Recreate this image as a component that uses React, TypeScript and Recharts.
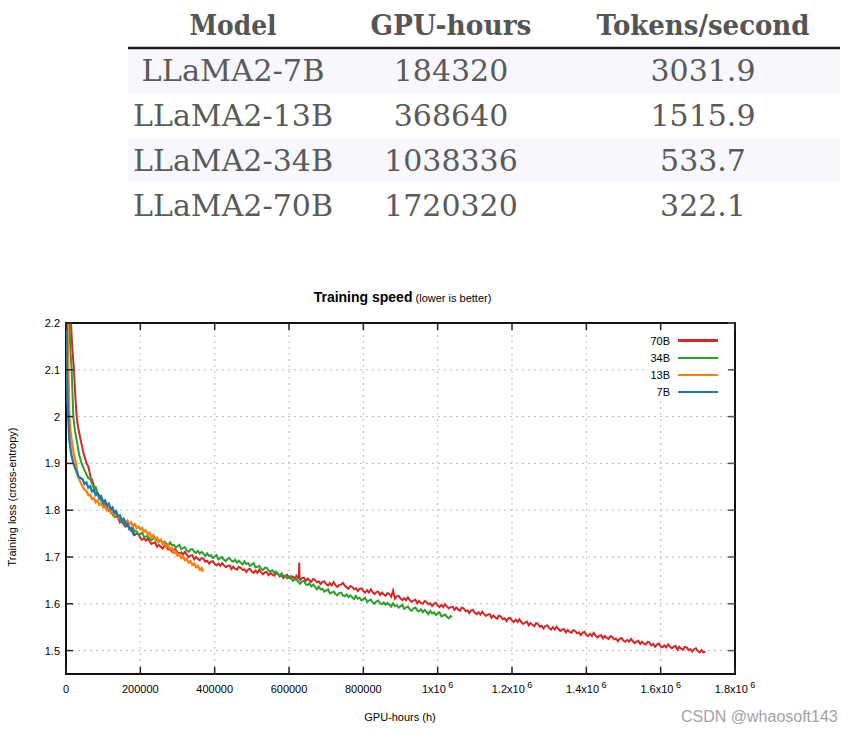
import React from 'react';
import { LineChart, Line, XAxis, YAxis, CartesianGrid, Legend, ReferenceArea } from 'recharts';

// ---------- table data ----------
const tableHeaders = ['Model', 'GPU-hours', 'Tokens/second'];
const modelNames = ['LLaMA2-7B', 'LLaMA2-13B', 'LLaMA2-34B', 'LLaMA2-70B'];
const gpuHoursCol = ['184320', '368640', '1038336', '1720320'];
const tokensCol = ['3031.9', '1515.9', '533.7', '322.1'];

// ---------- chart meta ----------
const seriesNames = ['70B', '34B', '13B', '7B'];
const seriesColors = ['#d62728', '#2ca02c', '#ff7f0e', '#1f77b4'];
const xTicks = [0, 200000, 400000, 600000, 800000, 1000000, 1200000, 1400000, 1600000, 1800000];
const yTicks = [1.5, 1.6, 1.7, 1.8, 1.9, 2, 2.1, 2.2];
const xDomain = [0, 1800000];
const yDomain = [1.45, 2.2];

// ---------- 70B (red): GPU-hours in thousands ----------
const redHeadK = [10, 13.5, 17, 21.5, 25, 28.7, 33, 39.5, 47, 55.6, 60, 62.8, 66];
const redHeadLoss = [2.32, 2.2, 2.145, 2.1, 2.045, 2.0, 1.975, 1.95, 1.922, 1.9, 1.893, 1.884, 1.87];
const redTailStartK = 70;
const redTailStepK = 5;
const redTailLoss = [
  1.865, 1.852, 1.847, 1.834, 1.832, 1.826, 1.814, 1.807, 1.808, 1.799,
  1.802, 1.793, 1.786, 1.786, 1.784, 1.774, 1.777, 1.770, 1.765, 1.768,
  1.764, 1.756, 1.755, 1.747, 1.750, 1.749, 1.741, 1.737, 1.740, 1.735,
  1.740, 1.733, 1.728, 1.730, 1.731, 1.722, 1.726, 1.722, 1.718, 1.724,
  1.722, 1.716, 1.717, 1.711, 1.716, 1.716, 1.710, 1.707, 1.710, 1.705,
  1.711, 1.705, 1.700, 1.703, 1.704, 1.695, 1.700, 1.696, 1.693, 1.698,
  1.696, 1.690, 1.692, 1.686, 1.690, 1.691, 1.685, 1.682, 1.686, 1.681,
  1.687, 1.682, 1.678, 1.681, 1.682, 1.674, 1.679, 1.675, 1.673, 1.679,
  1.677, 1.672, 1.674, 1.668, 1.673, 1.675, 1.669, 1.666, 1.671, 1.666,
  1.673, 1.667, 1.663, 1.667, 1.668, 1.661, 1.666, 1.662, 1.660, 1.666,
  1.664, 1.659, 1.661, 1.655, 1.660, 1.662, 1.656, 1.654, 1.658, 1.654,
  1.660, 1.655, 1.651, 1.655, 1.656, 1.649, 1.654, 1.650, 1.647, 1.653,
  1.651, 1.646, 1.648, 1.642, 1.647, 1.648, 1.642, 1.639, 1.644, 1.639,
  1.646, 1.640, 1.636, 1.640, 1.641, 1.645, 1.639, 1.635, 1.632, 1.638,
  1.636, 1.631, 1.633, 1.627, 1.632, 1.633, 1.627, 1.624, 1.629, 1.624,
  1.631, 1.625, 1.621, 1.625, 1.626, 1.619, 1.624, 1.620, 1.617, 1.623,
  1.621, 1.615, 1.628, 1.611, 1.616, 1.617, 1.611, 1.608, 1.612, 1.608,
  1.614, 1.608, 1.604, 1.607, 1.609, 1.601, 1.606, 1.602, 1.600, 1.606,
  1.604, 1.599, 1.601, 1.595, 1.600, 1.602, 1.596, 1.593, 1.598, 1.593,
  1.599, 1.594, 1.590, 1.593, 1.594, 1.587, 1.592, 1.588, 1.585, 1.592,
  1.590, 1.584, 1.586, 1.580, 1.586, 1.587, 1.581, 1.578, 1.582, 1.577,
  1.583, 1.578, 1.574, 1.577, 1.578, 1.570, 1.575, 1.571, 1.568, 1.575,
  1.573, 1.567, 1.569, 1.563, 1.569, 1.570, 1.564, 1.561, 1.566, 1.561,
  1.567, 1.561, 1.557, 1.560, 1.562, 1.554, 1.559, 1.555, 1.552, 1.559,
  1.557, 1.551, 1.553, 1.547, 1.553, 1.554, 1.548, 1.545, 1.550, 1.545,
  1.551, 1.546, 1.542, 1.545, 1.546, 1.539, 1.544, 1.540, 1.538, 1.544,
  1.542, 1.537, 1.539, 1.533, 1.538, 1.540, 1.534, 1.531, 1.536, 1.531,
  1.538, 1.532, 1.528, 1.532, 1.533, 1.526, 1.531, 1.527, 1.525, 1.531,
  1.529, 1.524, 1.526, 1.520, 1.525, 1.527, 1.521, 1.519, 1.523, 1.519,
  1.525, 1.520, 1.516, 1.519, 1.521, 1.514, 1.519, 1.515, 1.513, 1.519,
  1.517, 1.511, 1.514, 1.508, 1.513, 1.515, 1.509, 1.507, 1.511, 1.507,
  1.513, 1.508, 1.505, 1.508, 1.510, 1.502, 1.508, 1.504, 1.502, 1.508,
  1.507, 1.501, 1.503, 1.498, 1.503, 1.505, 1.499, 1.496, 1.501, 1.496, 1.498,
];
const redSpikeK = [626.5, 627.5, 628.5];
const redSpikeLoss = [1.655, 1.688, 1.653];

// ---------- 34B (green) ----------
const greenHeadK = [6, 9, 12, 15.3, 19.7, 24, 28.7, 35, 42, 50, 56];
const greenHeadLoss = [2.32, 2.2, 2.14, 2.1, 2.0, 1.97, 1.95, 1.92, 1.9, 1.885, 1.875];
const greenTailStartK = 60;
const greenTailStepK = 5;
const greenTailLoss = [
  1.868, 1.867, 1.857, 1.847, 1.849, 1.837, 1.832, 1.820, 1.816, 1.816,
  1.803, 1.802, 1.801, 1.792, 1.786, 1.789, 1.787, 1.779, 1.774, 1.776,
  1.768, 1.770, 1.764, 1.758, 1.763, 1.755, 1.755, 1.748, 1.749, 1.752,
  1.742, 1.744, 1.745, 1.739, 1.736, 1.740, 1.741, 1.734, 1.732, 1.736,
  1.730, 1.733, 1.729, 1.724, 1.731, 1.725, 1.726, 1.720, 1.723, 1.726,
  1.717, 1.719, 1.721, 1.714, 1.711, 1.716, 1.717, 1.711, 1.709, 1.713,
  1.707, 1.711, 1.707, 1.702, 1.708, 1.702, 1.704, 1.698, 1.701, 1.704,
  1.695, 1.698, 1.700, 1.694, 1.691, 1.696, 1.698, 1.692, 1.690, 1.694,
  1.688, 1.692, 1.688, 1.684, 1.691, 1.685, 1.687, 1.681, 1.684, 1.687,
  1.678, 1.679, 1.681, 1.675, 1.672, 1.677, 1.677, 1.671, 1.669, 1.672,
  1.666, 1.669, 1.665, 1.659, 1.665, 1.659, 1.660, 1.654, 1.656, 1.659,
  1.649, 1.651, 1.653, 1.647, 1.643, 1.648, 1.649, 1.642, 1.640, 1.644,
  1.637, 1.641, 1.636, 1.631, 1.637, 1.631, 1.632, 1.626, 1.628, 1.631,
  1.622, 1.624, 1.626, 1.621, 1.618, 1.623, 1.624, 1.618, 1.616, 1.620,
  1.614, 1.618, 1.614, 1.610, 1.617, 1.611, 1.613, 1.607, 1.610, 1.613,
  1.604, 1.607, 1.609, 1.603, 1.600, 1.605, 1.607, 1.601, 1.599, 1.603,
  1.598, 1.602, 1.598, 1.594, 1.601, 1.595, 1.597, 1.592, 1.595, 1.598,
  1.589, 1.592, 1.594, 1.588, 1.585, 1.590, 1.592, 1.586, 1.584, 1.588,
  1.582, 1.587, 1.583, 1.578, 1.585, 1.579, 1.582, 1.576, 1.579, 1.582,
  1.573, 1.575, 1.577, 1.572, 1.569, 1.574,
];
const greenEndK = [1038.3];
const greenEndLoss = [1.571];

// ---------- 13B (orange) ----------
const orangeHeadK = [3, 4.5, 6, 9, 12, 15, 21, 27, 33, 40, 45, 50];
const orangeHeadLoss = [2.35, 2.2, 2.12, 2.0, 1.97, 1.95, 1.92, 1.9, 1.87, 1.858, 1.85, 1.844];
const orangeTailStartK = 55;
const orangeTailStepK = 5;
const orangeTailLoss = [
  1.841, 1.832, 1.833, 1.824, 1.826, 1.817, 1.821, 1.811, 1.815, 1.806,
  1.808, 1.800, 1.803, 1.795, 1.798, 1.789, 1.793, 1.783, 1.787, 1.778,
  1.782, 1.775, 1.778, 1.770, 1.774, 1.766, 1.770, 1.762, 1.765, 1.759,
  1.762, 1.754, 1.757, 1.748, 1.752, 1.743, 1.747, 1.737, 1.741, 1.733,
  1.737, 1.728, 1.731, 1.721, 1.725, 1.716, 1.719, 1.709, 1.712, 1.703,
  1.706, 1.698, 1.701, 1.693, 1.696, 1.688, 1.691, 1.683, 1.686, 1.678,
  1.681, 1.673, 1.676,
];
const orangeEndK = [368.64];
const orangeEndLoss = [1.668];

// ---------- 7B (blue) ----------
const blueHeadK = [1, 1.8, 2.5, 4, 6, 9, 14, 20, 27, 33, 40];
const blueHeadLoss = [2.4, 2.2, 2.1, 2.03, 2.0, 1.95, 1.92, 1.9, 1.885, 1.873, 1.868];
const blueTailStartK = 45;
const blueTailStepK = 5;
const blueTailLoss = [
  1.866, 1.856, 1.859, 1.848, 1.851, 1.840, 1.843, 1.832, 1.835, 1.825,
  1.829, 1.818, 1.821, 1.811, 1.814, 1.803, 1.806, 1.795, 1.798, 1.787,
  1.789, 1.778, 1.781, 1.769, 1.772, 1.760, 1.762, 1.751,
];
const blueEndK = [184.32];
const blueEndLoss = [1.745];

type Pt = { h: number; loss: number };
const pairs = (ks: number[], ls: number[]): Pt[] => ks.map((k, i) => ({ h: k * 1000, loss: ls[i] }));
const stepped = (startK: number, stepK: number, ls: number[]): Pt[] =>
  ls.map((l, i) => ({ h: (startK + i * stepK) * 1000, loss: l }));
const merge = (...parts: Pt[][]): Pt[] => ([] as Pt[]).concat(...parts).sort((a, b) => a.h - b.h);

const redData = merge(pairs(redHeadK, redHeadLoss), stepped(redTailStartK, redTailStepK, redTailLoss), pairs(redSpikeK, redSpikeLoss));
const greenData = merge(pairs(greenHeadK, greenHeadLoss), stepped(greenTailStartK, greenTailStepK, greenTailLoss), pairs(greenEndK, greenEndLoss));
const orangeData = merge(pairs(orangeHeadK, orangeHeadLoss), stepped(orangeTailStartK, orangeTailStepK, orangeTailLoss), pairs(orangeEndK, orangeEndLoss));
const blueData = merge(pairs(blueHeadK, blueHeadLoss), stepped(blueTailStartK, blueTailStepK, blueTailLoss), pairs(blueEndK, blueEndLoss));
const seriesData = [redData, greenData, orangeData, blueData];
const seriesWidths = [2, 2, 2.3, 2.3];

const SANS = '"Liberation Sans", Arial, Helvetica, sans-serif';
const SERIF = '"DejaVu Serif", "Liberation Serif", serif';

// ---------- layout ----------
const CHART_W = 855;
const CHART_H = 732;
const MARGIN = { top: 323, right: 120, bottom: 28, left: 16 };
const Y_AXIS_W = 50;
const X_AXIS_H = 30;
const PLOT_TOP = MARGIN.top;
const PLOT_RIGHT = CHART_W - MARGIN.right;
const X_TICK_MARGIN = 11;
const Y_TICK_MARGIN = 6;
const TICK_LEN = 7;

const XTick = (props: any) => {
  const { x, y, payload } = props;
  const v = payload.value as number;
  const axisY = y - X_TICK_MARGIN;
  const common = { fontSize: 11, fontFamily: SANS, fill: '#000', textAnchor: 'middle' as const };
  return (
    <g>
      <line x1={x} x2={x} y1={axisY} y2={axisY - TICK_LEN} stroke="#222" strokeWidth={1.5} />
      <line x1={x} x2={x} y1={PLOT_TOP} y2={PLOT_TOP + TICK_LEN} stroke="#222" strokeWidth={1.5} />
      {v < 1000000 ? (
        <text x={x} y={y} dy="0.71em" {...common}>{String(v)}</text>
      ) : (
        <text x={x} y={y} dy="0.71em" {...common}>
          <tspan>{`${v / 1000000}x10`}</tspan>
          <tspan dy={-5} fontSize={9}>{'\u00a06'}</tspan>
        </text>
      )}
    </g>
  );
};

const YTick = (props: any) => {
  const { x, y, payload } = props;
  const axisX = x + Y_TICK_MARGIN;
  return (
    <g>
      <line x1={axisX} x2={axisX + TICK_LEN} y1={y} y2={y} stroke="#222" strokeWidth={1.5} />
      <line x1={PLOT_RIGHT} x2={PLOT_RIGHT - TICK_LEN} y1={y} y2={y} stroke="#555" strokeWidth={1.5} />
      <text x={x} y={y} dy="0.355em" textAnchor="end" fontSize={11} fontFamily={SANS} fill="#000">
        {String(payload.value)}
      </text>
    </g>
  );
};

const renderLegend = (props: any) => {
  const payload = [...(props.payload || [])].sort(
    (a: any, b: any) => seriesNames.indexOf(a.value) - seriesNames.indexOf(b.value)
  );
  return (
    <div style={{ background: '#fff', width: 83, paddingTop: 1 }}>
      {payload.map((p: any) => (
        <div key={p.value} style={{ display: 'flex', alignItems: 'center', height: 17.2 }}>
          <span style={{ width: 25, textAlign: 'right', fontSize: 11, fontFamily: SANS, color: '#000', lineHeight: '12px' }}>
            {p.value}
          </span>
          <span style={{ width: 40, height: 2.5, background: p.color, marginLeft: 8 }} />
        </div>
      ))}
    </div>
  );
};

const Table = () => {
  const colX = [233, 451, 703];
  const headerW = [87, 161, 213];
  const rowBase = [81, 126, 171, 216];
  const modelW = [183, 200, 200, 200];
  const cols = [modelNames, gpuHoursCol, tokensCol];
  return (
    <svg width={855} height={240} style={{ position: 'absolute', left: 0, top: 0 }}>
      <rect x={128} y={50} width={712} height={43} fill="#f7f7fc" />
      <rect x={128} y={138} width={712} height={44} fill="#f7f7fc" />
      <line x1={128} x2={840} y1={48} y2={48} stroke="#1a1a1a" strokeWidth={2.5} />
      {tableHeaders.map((h, i) => (
        <text key={h} x={colX[i]} y={35} textAnchor="middle" fontFamily={SERIF} fontWeight="bold" fontSize={28}
          fill="#555" textLength={headerW[i]} lengthAdjust="spacingAndGlyphs">{h}</text>
      ))}
      {cols.map((col, ci) =>
        col.map((val, ri) => (
          <text key={ci + '-' + ri} x={colX[ci]} y={rowBase[ri]} textAnchor="middle" fontFamily={SERIF} fontSize={30}
            fill="#5a5a5a" {...(ci === 0 ? { textLength: modelW[ri], lengthAdjust: 'spacingAndGlyphs' } : {})}>{val}</text>
        ))
      )}
    </svg>
  );
};

export default function App() {
  return (
    <div style={{ position: 'relative', width: 855, height: 732, background: '#fff', overflow: 'hidden' }}>
      <style>{'body{margin:0;}'}</style>
      <Table />
      <div style={{ position: 'absolute', left: 0, top: 0 }}>
        <LineChart width={CHART_W} height={CHART_H} margin={MARGIN}>
          <CartesianGrid stroke="#bdbdbd" strokeDasharray="2 4" strokeWidth={1} />
          <XAxis dataKey="h" type="number" domain={xDomain} ticks={xTicks} allowDataOverflow
            height={X_AXIS_H} tickSize={0} tickMargin={X_TICK_MARGIN} interval={0}
            axisLine={false} tickLine={false} tick={<XTick />} />
          <YAxis type="number" domain={yDomain} ticks={yTicks} allowDataOverflow width={Y_AXIS_W}
            tickSize={0} tickMargin={Y_TICK_MARGIN} interval={0}
            axisLine={false} tickLine={false} tick={<YTick />} />
          <Legend layout="horizontal" verticalAlign="middle" align="center" content={renderLegend}
            wrapperStyle={{ position: 'absolute', left: 645, top: 331, width: 83, height: 70 }} />
          {seriesNames.map((name, i) => (
            <Line key={name} name={name} data={seriesData[i]} dataKey="loss" type="linear" stroke={seriesColors[i]}
              strokeWidth={seriesWidths[i]} strokeLinejoin="miter" dot={false} activeDot={false} isAnimationActive={false} />
          ))}
          <ReferenceArea x1={xDomain[0]} x2={xDomain[1]} y1={yDomain[0]} y2={yDomain[1]} fill="none"
            fillOpacity={0} stroke="#111" strokeWidth={2} ifOverflow="visible" />
        </LineChart>
      </div>
      <div style={{ position: 'absolute', left: 0, width: 805, top: 288, textAlign: 'center', fontFamily: SANS, color: '#000', whiteSpace: 'nowrap' }}>
        <span style={{ fontSize: 14, fontWeight: 'bold' }}>Training speed</span>
        <span style={{ fontSize: 11 }}> (lower is better)</span>
      </div>
      <div style={{ position: 'absolute', left: 0, width: 800, top: 711, textAlign: 'center', fontFamily: SANS, fontSize: 11, color: '#000' }}>
        GPU-hours (h)
      </div>
      <div style={{ position: 'absolute', left: 12, top: 498, width: 0, height: 0 }}>
        <div style={{ position: 'absolute', left: -100, top: -7, width: 200, textAlign: 'center', transform: 'rotate(-90deg)', fontFamily: SANS, fontSize: 11, color: '#000', whiteSpace: 'nowrap' }}>
          Training loss (cross-entropy)
        </div>
      </div>
      <div style={{ position: 'absolute', left: 681, top: 708, fontFamily: SANS, fontSize: 16, color: '#a3a3a3', whiteSpace: 'nowrap' }}>
        CSDN @whaosoft143
      </div>
    </div>
  );
}
